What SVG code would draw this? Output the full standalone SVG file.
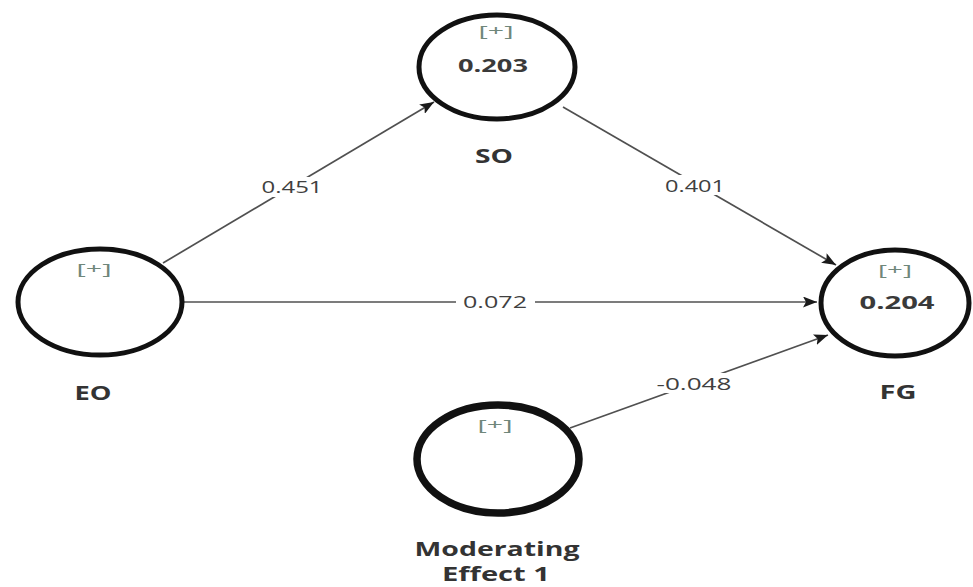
<svg xmlns="http://www.w3.org/2000/svg" width="973" height="587" viewBox="0 0 973 587">
  <style>
    .node { fill: #ffffff; stroke: #111111; stroke-width: 5; }
    .mod { stroke-width: 7.5; }
    .edge { stroke: #505050; stroke-width: 1.7; fill: none; }
    .plus { font-family: "Open Sans", "DejaVu Sans", sans-serif; font-size: 15px; fill: #6f877b; text-anchor: middle; }
    .val { font-family: "Open Sans", "DejaVu Sans", sans-serif; font-size: 18px; font-weight: bold; fill: #3a3a3a; text-anchor: middle; }
    .name { font-family: "Open Sans", "DejaVu Sans", sans-serif; font-size: 19px; font-weight: bold; fill: #333333; text-anchor: middle; }
    .coef { font-family: "Open Sans", "DejaVu Sans", sans-serif; font-size: 16px; fill: #404040; text-anchor: middle; }
    .bg { fill: #ffffff; }
  </style>
  <defs>
    <marker id="arrow" markerUnits="userSpaceOnUse" markerWidth="15" markerHeight="11" refX="14" refY="5.5" orient="auto">
      <path d="M0,0 L14,5.5 L0,11 L3,5.5 z" fill="#1a1a1a"/>
    </marker>
  </defs>
  <rect width="973" height="587" fill="#ffffff"/>

  <g id="connectors">
    <line class="edge" x1="163" y1="263" x2="434" y2="102" marker-end="url(#arrow)"/>
    <line class="edge" x1="563" y1="107" x2="836" y2="265" marker-end="url(#arrow)"/>
    <line class="edge" x1="183" y1="302" x2="817" y2="302" marker-end="url(#arrow)"/>
    <line class="edge" x1="570" y1="428" x2="828" y2="335" marker-end="url(#arrow)"/>
    <rect class="bg" x="258" y="177" width="69" height="20"/>
    <text class="coef" x="292" y="193" textLength="61" lengthAdjust="spacingAndGlyphs">0.451</text>
    <rect class="bg" x="660" y="175" width="70" height="20"/>
    <text class="coef" x="695" y="192" textLength="60" lengthAdjust="spacingAndGlyphs">0.401</text>
    <rect class="bg" x="456" y="292" width="79" height="20"/>
    <text class="coef" x="495" y="308" textLength="64" lengthAdjust="spacingAndGlyphs">0.072</text>
    <rect class="bg" x="653" y="373" width="84" height="20"/>
    <text class="coef" x="694" y="390" textLength="75" lengthAdjust="spacingAndGlyphs">-0.048</text>
  </g>

  <g id="node-SO">
    <ellipse class="node" cx="497" cy="67" rx="78" ry="52"/>
    <text class="plus" x="496" y="36" textLength="35" lengthAdjust="spacingAndGlyphs">[+]</text>
    <text class="val" x="493" y="72" textLength="70" lengthAdjust="spacingAndGlyphs">0.203</text>
    <text class="name" x="494" y="163" textLength="38" lengthAdjust="spacingAndGlyphs">SO</text>
  </g>

  <g id="node-EO">
    <ellipse class="node" cx="100" cy="302" rx="82" ry="53"/>
    <text class="plus" x="94" y="274" textLength="35" lengthAdjust="spacingAndGlyphs">[+]</text>
    <text class="name" x="93" y="400" textLength="37" lengthAdjust="spacingAndGlyphs">EO</text>
  </g>

  <g id="node-FG">
    <ellipse class="node" cx="895" cy="303" rx="74" ry="53"/>
    <text class="plus" x="895" y="275" textLength="34" lengthAdjust="spacingAndGlyphs">[+]</text>
    <text class="val" x="897" y="309" textLength="75" lengthAdjust="spacingAndGlyphs">0.204</text>
    <text class="name" x="898" y="399" textLength="37" lengthAdjust="spacingAndGlyphs">FG</text>
  </g>

  <g id="node-Moderating">
    <ellipse class="node mod" cx="498" cy="459" rx="81" ry="54"/>
    <text class="plus" x="495" y="430" textLength="35" lengthAdjust="spacingAndGlyphs">[+]</text>
    <text class="name" x="497" y="556" textLength="165" lengthAdjust="spacingAndGlyphs">Moderating</text>
    <text class="name" x="496" y="581" textLength="108" lengthAdjust="spacingAndGlyphs">Effect 1</text>
  </g>
</svg>
